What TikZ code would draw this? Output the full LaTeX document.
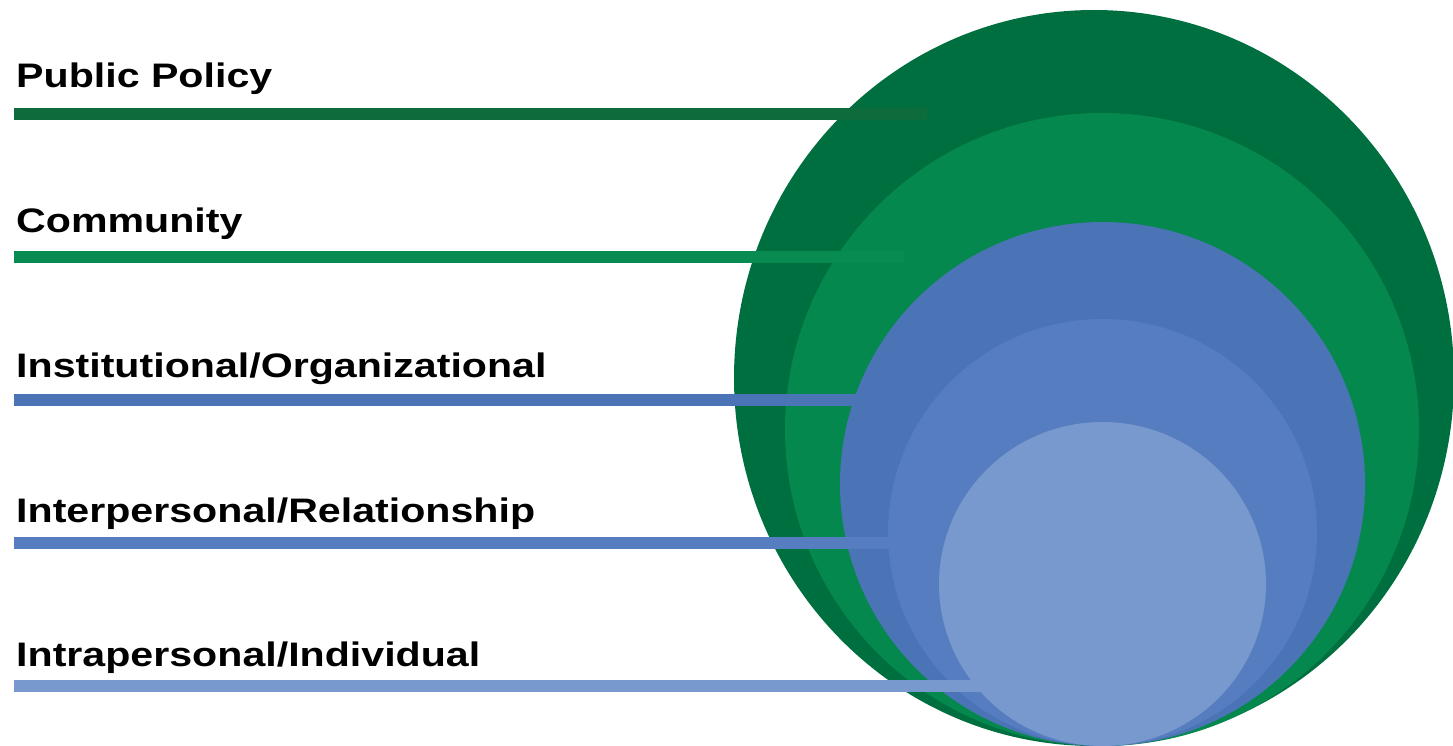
\documentclass[tikz,border=0pt]{standalone}
\usepackage{fontspec}
\newfontfamily\lab{Liberation Sans}[FakeStretch=1.21]
\definecolor{lvA}{HTML}{006F3F}
\definecolor{lvB}{HTML}{05884E}
\definecolor{lvC}{HTML}{4A74B5}
\definecolor{lvD}{HTML}{567DBF}
\definecolor{lvE}{HTML}{7899CD}
\definecolor{barA}{HTML}{0E6B3B}
\definecolor{barB}{HTML}{088B50}
\tikzset{
  lvlabel/.style={anchor=base west, inner sep=0pt, font=\lab\bfseries\fontsize{34}{40}\selectfont, text=black},
  lvbar/.style={line width=12pt, line cap=butt},
}
\begin{document}
\begin{tikzpicture}[x=1pt, y=-1pt]
\useasboundingbox (0,0) rectangle (1453,746);
% nested ellipses
\fill[lvA] (1094,378) ellipse [x radius=360pt, y radius=368pt];
\fill[lvB] (1102,429.5) ellipse [x radius=317pt, y radius=316.5pt];
\fill[lvC] (1102.5,484) ellipse [x radius=262.5pt, y radius=262pt];
\fill[lvD] (1102.5,532.5) ellipse [x radius=214.5pt, y radius=213.5pt];
\fill[lvE] (1102.5,584) ellipse [x radius=163.5pt, y radius=162pt];
% bar coordinates
\coordinate (b1s) at (14,114.5); \coordinate (b1e) at (927,114.5);
\coordinate (b2s) at (14,256.5); \coordinate (b2e) at (904,256.5);
\coordinate (b3s) at (14,399.5); \coordinate (b3e) at (905,399.5);
\coordinate (b4s) at (14,542.5); \coordinate (b4e) at (890,542.5);
\coordinate (b5s) at (14,685.5); \coordinate (b5e) at (980,685.5);
\draw[lvbar, barA] (b1s) -- (b1e);
\draw[lvbar, barB] (b2s) -- (b2e);
\draw[lvbar, lvC] (b3s) -- (b3e);
\draw[lvbar, lvD] (b4s) -- (b4e);
\draw[lvbar, lvE] (b5s) -- (b5e);
% labels
\node[lvlabel] (l1) at (16,88) {Public Policy};
\node[lvlabel] (l2) at (16,233) {Community};
\node[lvlabel] (l3) at (16,377) {Institutional/Organizational};
\node[lvlabel] (l4) at (16,522) {Interpersonal/Relationship};
\node[lvlabel] (l5) at (16,666) {Intrapersonal/Individual};
\end{tikzpicture}
\end{document}
